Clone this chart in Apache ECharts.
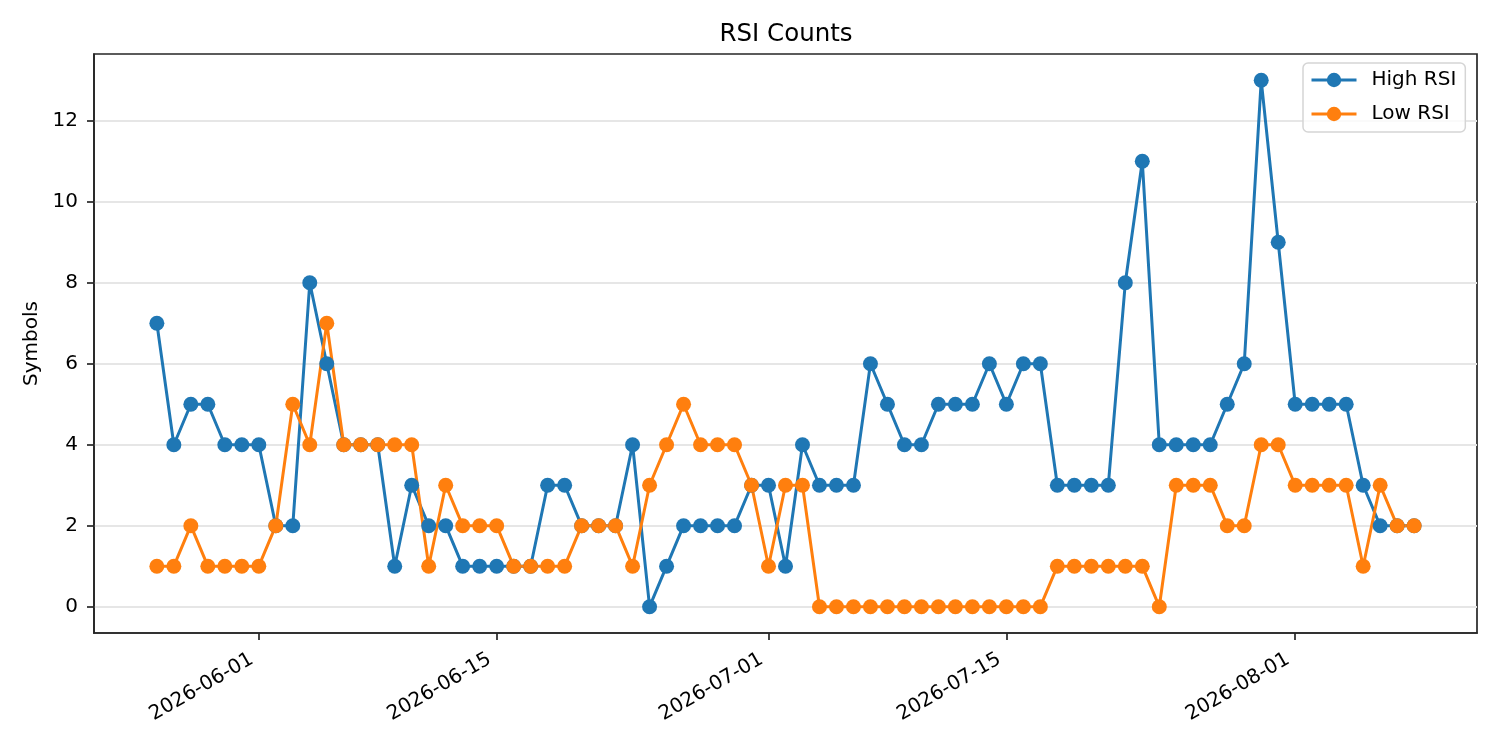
<!DOCTYPE html>
<html>
<head>
<meta charset="utf-8">
<title>RSI Counts</title>
<script src="https://cdn.jsdelivr.net/npm/echarts@6/dist/echarts.min.js"></script>
<style>
  html, body { margin: 0; padding: 0; background: #fff; }
  #box { width: 1500px; height: 750px; }
</style>
</head>
<body>
<div id="box"></div>
<script>
const dates = [
  '2026-05-26', '2026-05-27', '2026-05-28', '2026-05-29', '2026-05-30', '2026-05-31',
  '2026-06-01', '2026-06-02', '2026-06-03', '2026-06-04', '2026-06-05', '2026-06-06', '2026-06-07',
  '2026-06-08', '2026-06-09', '2026-06-10', '2026-06-11', '2026-06-12', '2026-06-13', '2026-06-14',
  '2026-06-15', '2026-06-16', '2026-06-17', '2026-06-18', '2026-06-19', '2026-06-20', '2026-06-21',
  '2026-06-22', '2026-06-23', '2026-06-24', '2026-06-25', '2026-06-26', '2026-06-27', '2026-06-28',
  '2026-06-29', '2026-06-30',
  '2026-07-01', '2026-07-02', '2026-07-03', '2026-07-04', '2026-07-05', '2026-07-06', '2026-07-07',
  '2026-07-08', '2026-07-09', '2026-07-10', '2026-07-11', '2026-07-12', '2026-07-13', '2026-07-14',
  '2026-07-15', '2026-07-16', '2026-07-17', '2026-07-18', '2026-07-19', '2026-07-20', '2026-07-21',
  '2026-07-22', '2026-07-23', '2026-07-24', '2026-07-25', '2026-07-26', '2026-07-27', '2026-07-28',
  '2026-07-29', '2026-07-30', '2026-07-31',
  '2026-08-01', '2026-08-02', '2026-08-03', '2026-08-04', '2026-08-05', '2026-08-06', '2026-08-07',
  '2026-08-08'
]
const highRsi = [
  7, 4, 5, 5, 4, 4,
  4, 2, 2, 8, 6, 4, 4, 4, 1, 3, 2, 2, 1, 1, 1, 1, 1, 3, 3, 2, 2, 2, 4, 0, 1, 2, 2, 2, 2, 3,
  3, 1, 4, 3, 3, 3, 6, 5, 4, 4, 5, 5, 5, 6, 5, 6, 6, 3, 3, 3, 3, 8, 11, 4, 4, 4, 4, 5, 6, 13, 9,
  5, 5, 5, 5, 3, 2, 2, 2
]
const lowRsi = [
  1, 1, 2, 1, 1, 1,
  1, 2, 5, 4, 7, 4, 4, 4, 4, 4, 1, 3, 2, 2, 2, 1, 1, 1, 1, 2, 2, 2, 1, 3, 4, 5, 4, 4, 4, 3,
  1, 3, 3, 0, 0, 0, 0, 0, 0, 0, 0, 0, 0, 0, 0, 0, 0, 1, 1, 1, 1, 1, 1, 0, 3, 3, 3, 2, 2, 4, 4,
  3, 3, 3, 3, 1, 3, 2, 2
]
const xTicks = ['2026-06-01', '2026-06-15', '2026-07-01', '2026-07-15', '2026-08-01']
const yTicks = [0, 2, 4, 6, 8, 10, 12]

const DAY = 86400000
const toTime = s => {
  const [y, m, d] = s.split('-').map(Number)
  return new Date(y, m - 1, d).getTime()
}
const pad = n => String(n).padStart(2, '0')
const fmtDate = v => {
  const d = new Date(v)
  return d.getFullYear() + '-' + pad(d.getMonth() + 1) + '-' + pad(d.getDate())
}

const FONT = 'DejaVu Sans'
const INK = '#262626'
const axisLine = { show: true, onZero: false, lineStyle: { color: INK, width: 1.7 } }
const axisTick = { show: true, inside: false, length: 7, lineStyle: { color: INK, width: 1.7 } }

const chart = echarts.init(document.getElementById('box'))
chart.setOption({
  animation: false,
  backgroundColor: '#fff',
  textStyle: { fontFamily: FONT },
  title: {
    text: 'RSI Counts',
    left: 786,
    top: 22,
    padding: 0,
    textAlign: 'center',
    textStyle: { fontFamily: FONT, fontSize: 24.5, fontWeight: 'normal', color: '#000' }
  },
  legend: {
    orient: 'vertical',
    left: 1303,
    top: 63,
    padding: [7, 9, 8, 7],
    itemWidth: 45,
    itemHeight: 18,
    itemGap: 14,
    backgroundColor: 'rgba(255,255,255,0.8)',
    borderColor: '#d5d5d5',
    borderWidth: 1.5,
    borderRadius: 5,
    lineStyle: { width: 3 },
    textStyle: { fontFamily: FONT, fontSize: 20, color: '#000', padding: [0, 0, 0, 10] },
    data: ['High RSI', 'Low RSI']
  },
  grid: {
    left: 94,
    right: 23,
    top: 54,
    bottom: 117,
    show: true,
    borderColor: INK,
    borderWidth: 1.7,
    containLabel: false,
    outerBoundsMode: 'none'
  },
  xAxis: {
    type: 'value',
    min: toTime(dates[0]) - 3.7 * DAY,
    max: toTime(dates[dates.length - 1]) + 3.7 * DAY,
    axisLine,
    axisTick: { ...axisTick, customValues: xTicks.map(toTime) },
    axisLabel: {
      customValues: xTicks.map(toTime),
      formatter: v => fmtDate(v),
      rotate: 30,
      margin: 21,
      padding: [0, 8, 0, 0],
      fontFamily: FONT,
      fontSize: 20,
      color: '#000'
    },
    splitLine: { show: false },
    minorTick: { show: false }
  },
  yAxis: {
    type: 'value',
    min: -0.65,
    max: 13.65,
    name: 'Symbols',
    nameLocation: 'middle',
    nameGap: 46,
    nameTextStyle: { fontFamily: FONT, fontSize: 20, color: '#000' },
    axisLine,
    axisTick: { ...axisTick, customValues: yTicks },
    axisLabel: {
      customValues: yTicks,
      margin: 16,
      fontFamily: FONT,
      fontSize: 20,
      color: '#000'
    },
    splitLine: { show: true, lineStyle: { color: '#e6e6e6', width: 2 } }
  },
  series: [
    {
      name: 'High RSI',
      type: 'line',
      data: dates.map((d, i) => [toTime(d), highRsi[i]]),
      symbol: 'circle',
      symbolSize: 15,
      showAllSymbol: true,
      color: '#1f77b4',
      lineStyle: { width: 3, color: '#1f77b4' },
      itemStyle: { color: '#1f77b4' }
    },
    {
      name: 'Low RSI',
      type: 'line',
      data: dates.map((d, i) => [toTime(d), lowRsi[i]]),
      symbol: 'circle',
      symbolSize: 15,
      showAllSymbol: true,
      color: '#ff7f0e',
      lineStyle: { width: 3, color: '#ff7f0e' },
      itemStyle: { color: '#ff7f0e' }
    }
  ]
})
</script>
</body>
</html>
